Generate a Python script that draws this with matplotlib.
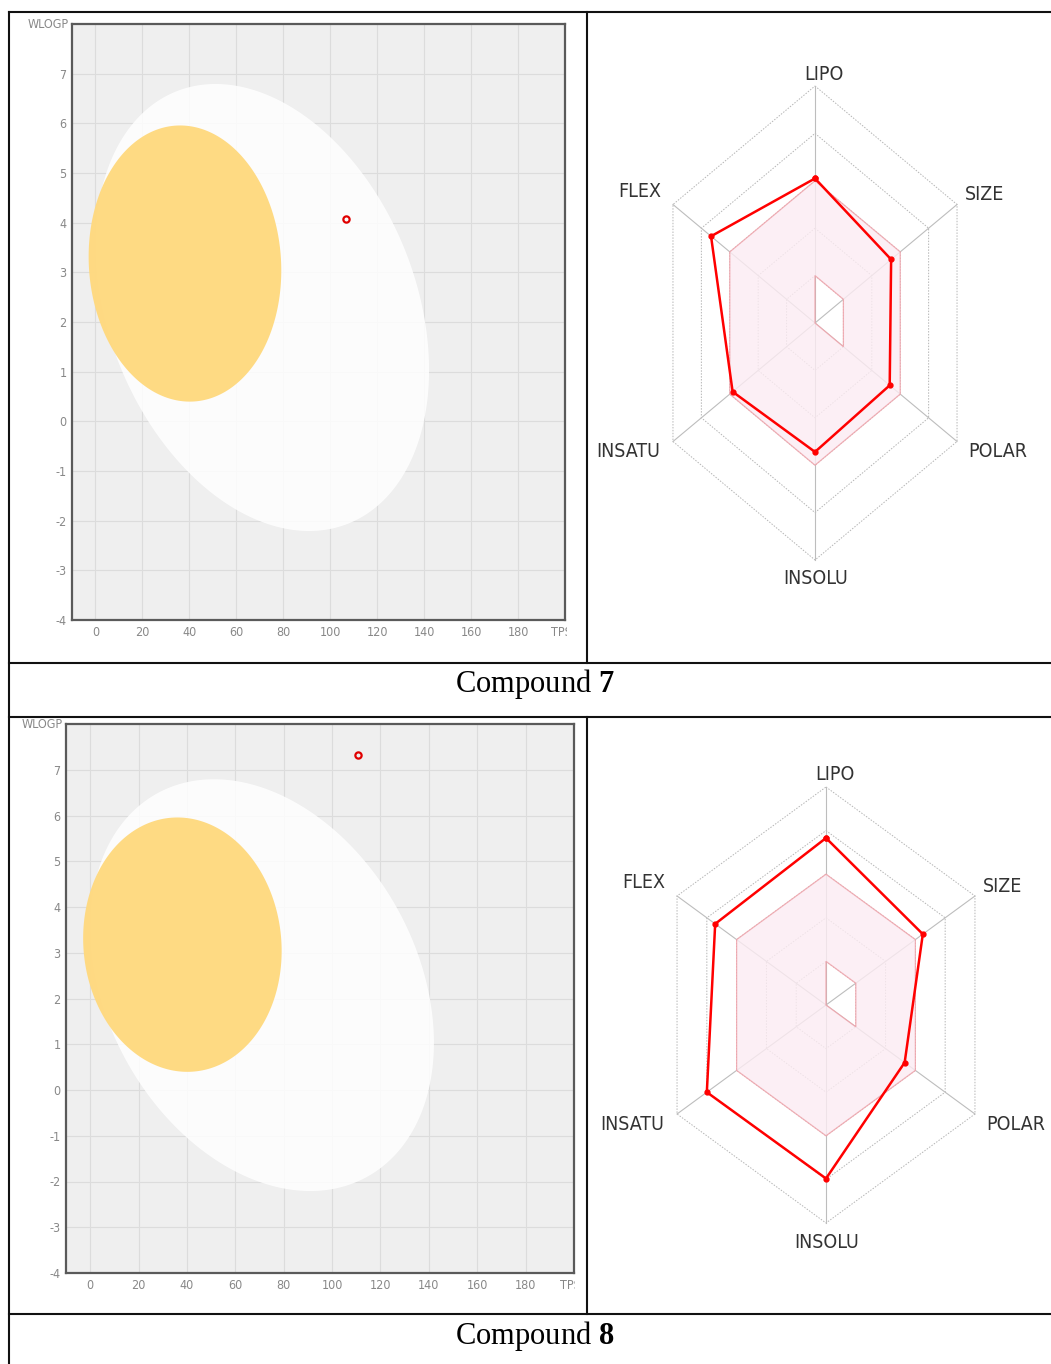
import numpy as np
import matplotlib
matplotlib.use('Agg')
import matplotlib.pyplot as plt
from matplotlib.path import Path
from matplotlib.patches import PathPatch
from matplotlib.lines import Line2D
from matplotlib.transforms import Bbox

plt.rcParams['font.family'] = ['DejaVu Sans']
plt.rcParams['font.stretch'] = 'condensed'
plt.rcParams['mathtext.fontset'] = 'custom'
plt.rcParams['mathtext.rm'] = 'Liberation Serif'
plt.rcParams['mathtext.bf'] = 'Liberation Serif:bold'

W, H = 1051, 1364

# --- data ---
compounds = ['7', '8']
tpsa = [106.8, 110.9]
wlogp = [4.07, 7.33]

radar_labels = ['LIPO', 'SIZE', 'POLAR', 'INSOLU', 'INSATU', 'FLEX']
radar_7 = [3.05, 2.68, 2.63, 2.72, 2.90, 3.66]
radar_8 = [3.83, 3.25, 2.64, 3.98, 4.00, 3.72]
zone_inner = [1, 1, 1, 0, 0, 0]
zone_outer = [3, 3, 3, 3, 3, 3]

x_ticks = [0, 20, 40, 60, 80, 100, 120, 140, 160, 180]
y_ticks = [-4, -3, -2, -1, 0, 1, 2, 3, 4, 5, 6, 7]

# BOILED-Egg regions: centre, half width, half height, tilt
white_egg = (71.051, 2.292, 71.04, 4.50, 0.284)
yolk = (38.117, 3.177, 41.03, 2.78, 0.05)


def px(x0, y0, w, h):
    return [x0 / W, 1 - (y0 + h) / H, w / W, h / H]


def egg_shape(cx, cy, ax_, ay, tilt):
    t = np.linspace(0, 2 * np.pi, 300)
    return cx + ax_ * np.cos(t), cy - ay * np.sin(t + tilt)


def draw_egg(rect, xp, yp, clip_x):
    ax = fig.add_axes(px(*rect))
    ax.set_facecolor('#efefef')
    ax.set_xlim(-10, 200)
    ax.set_ylim(-4, 8)
    for v in x_ticks + [200]:
        ax.axvline(v, color='#dcdcdc', lw=0.8, zorder=0.5)
    for v in y_ticks:
        ax.axhline(v, color='#dcdcdc', lw=0.8, zorder=0.5)
    ex, ey = egg_shape(*white_egg)
    ax.fill(ex, ey, color='white', alpha=0.85, lw=0, zorder=1)
    yx, yy = egg_shape(*yolk)
    ax.fill(yx, yy, color='#ffd97f', alpha=0.97, lw=0, zorder=2)
    ax.plot([xp], [yp], 'o', ms=4.5, mfc='none', mec='#e00000', mew=1.6, zorder=3)
    ax.set_xticks(x_ticks)
    ax.set_yticks(y_ticks)
    ax.set_xticklabels([str(v) for v in x_ticks])
    ax.set_yticklabels([str(v) for v in y_ticks])
    ax.tick_params(length=0, labelsize=9, labelcolor='#888888', pad=4)
    for s in ax.spines.values():
        s.set_color('#5a5a5a')
        s.set_linewidth(1.6)
    ax.text(-11.5, 8, 'WLOGP', ha='right', va='center', fontsize=9,
            color='#888888', clip_on=False)
    t = ax.annotate('TPSA', xy=(200, 0), xycoords=('data', 'axes fraction'),
                    xytext=(0, -4), textcoords='offset points', ha='center',
                    va='top', fontsize=9, color='#888888')
    t.set_clip_on(True)
    t.set_clip_box(Bbox([[0, 0], [clip_x, H]]))
    return ax


def draw_radar(cx, cy, xs, ys, values):
    xl, yl = 6.5, 6.6
    ax = fig.add_axes(px(cx - xl * xs, cy - yl * ys, 2 * xl * xs, 2 * yl * ys))
    ax.set_xlim(-xl, xl)
    ax.set_ylim(-yl, yl)
    ax.axis('off')
    ang = np.deg2rad(np.arange(6) * 60)
    sx, sy = np.sin(ang), np.cos(ang)
    for r in [1, 2, 3, 4, 5]:
        ax.plot(np.append(r * sx, r * sx[0]), np.append(r * sy, r * sy[0]),
                color='#b5b5b5', lw=0.7, ls=(0, (1.5, 1.5)), zorder=1)
    for i in range(6):
        ax.plot([0, 5 * sx[i]], [0, 5 * sy[i]], color='#bdbdbd', lw=0.8, zorder=1)
    ro = np.array(zone_outer, float)
    ri = np.array(zone_inner, float)
    outer = np.column_stack([ro * sx, ro * sy])
    inner = np.column_stack([ri * sx, ri * sy])[::-1]
    verts = np.vstack([outer, outer[:1], inner, inner[:1]])
    codes = ([Path.MOVETO] + [Path.LINETO] * 5 + [Path.CLOSEPOLY]) * 2
    ax.add_patch(PathPatch(Path(verts, codes), fc='#fcecf3', ec='#f0a0a8',
                           lw=0.9, alpha=0.8, zorder=2))
    v = np.array(values)
    ax.plot(np.append(v * sx, v[0] * sx[0]), np.append(v * sy, v[0] * sy[0]),
            color='#ff0000', lw=1.8, marker='o', ms=3.5, zorder=3)
    offs = [(9, 12), (28, 10), (41, -10), (1, -19), (-45, -10), (-33, 13)]
    for i, lab in enumerate(radar_labels):
        ax.annotate(lab, (5 * sx[i], 5 * sy[i]), xytext=offs[i],
                    textcoords='offset pixels', ha='center', va='center',
                    fontsize=14, color='#333333', annotation_clip=False)
    return ax


fig = plt.figure(figsize=(W / 100, H / 100), dpi=100)

draw_egg((72, 24, 493, 596), tpsa[0], wlogp[0], 567)
draw_egg((66, 724, 508, 549), tpsa[1], wlogp[1], 575)

draw_radar(815, 323, 32.8, 47.4, radar_7)
draw_radar(826, 1005, 34.4, 43.6, radar_8)

# table rules
def rule(x0, y0, x1, y1):
    fig.add_artist(Line2D([x0 / W, x1 / W], [1 - y0 / H, 1 - y1 / H],
                          transform=fig.transFigure, color='#111111', lw=1.5))

rule(9, 12, 9, H)
rule(9, 12, W, 12)
rule(9, 663, W, 663)
rule(9, 717, W, 717)
rule(9, 1314, W, 1314)
rule(587, 12, 587, 663)
rule(587, 717, 587, 1314)

for c, yc in zip(compounds, [684, 1336]):
    fig.text(535 / W, 1 - yc / H, r'Compound $\mathbf{%s}$' % c,
             family='Liberation Serif', stretch='normal', fontsize=22,
             ha='center', va='center')

fig.savefig('out.png', dpi=100)
